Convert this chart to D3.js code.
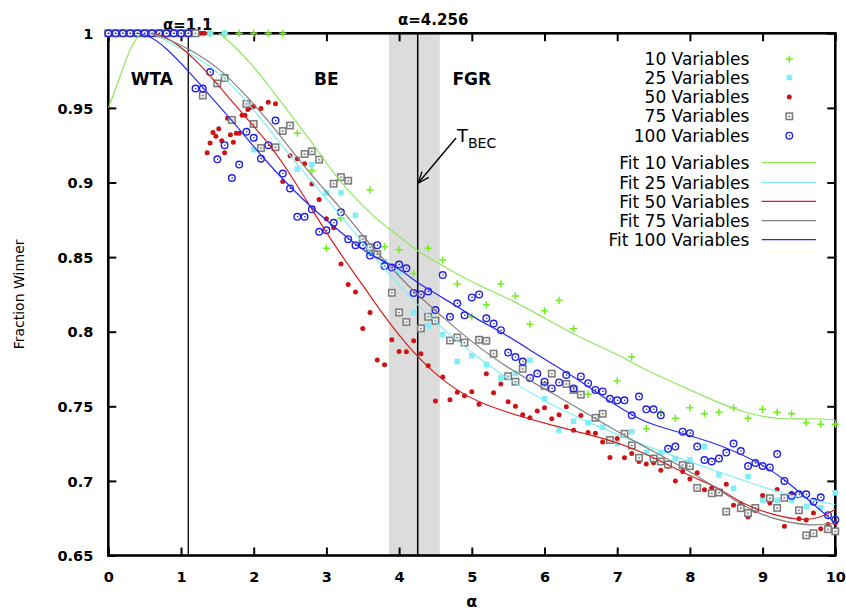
<!DOCTYPE html>
<html>
<head>
<meta charset="utf-8">
<script src="https://cdn.jsdelivr.net/npm/d3@7"></script>
<style>
  html, body { margin: 0; padding: 0; background: #fff; }
  svg { display: block; }
  text { font-family: "DejaVu Sans", sans-serif; }
</style>
</head>
<body>
<svg id="chart" width="846" height="612"></svg>
<script>
// ---------------- DATA ----------------
const xTicks = [0, 1, 2, 3, 4, 5, 6, 7, 8, 9, 10];
const xTickLabels = ["0", "1", "2", "3", "4", "5", "6", "7", "8", "9", "10"];
const yTicks = [0.65, 0.7, 0.75, 0.8, 0.85, 0.9, 0.95, 1];
const yTickLabels = ["0.65", "0.7", "0.75", "0.8", "0.85", "0.9", "0.95", "1"];

const seriesNames = ["10 Variables", "25 Variables", "50 Variables", "75 Variables", "100 Variables"];
const fitNames = ["Fit 10 Variables", "Fit 25 Variables", "Fit 50 Variables", "Fit 75 Variables", "Fit 100 Variables"];

const vars10 = [[0,1],[0.2,1],[0.4,1],[0.6,1],[0.8,1],[1,1],[1.2,1],[1.4,1],[1.6,1],[1.8,1],[2,1],[2.2,1],[2.4,1],
  [2.6,0.933],[2.8,0.908],[3.0,0.856],[3.2,0.876],[3.6,0.895],[3.8,0.857],[4.0,0.855],[4.2,0.839],[4.4,0.856],
  [4.6,0.848],[4.8,0.832],[5.0,0.810],[5.2,0.818],[5.4,0.832],[5.6,0.824],[5.8,0.805],[6.0,0.814],[6.2,0.821],
  [6.4,0.802],[6.6,0.758],[6.8,0.745],[7.0,0.767],[7.2,0.783],[7.4,0.735],[7.6,0.746],[7.8,0.742],[8.0,0.749],
  [8.2,0.745],[8.4,0.746],[8.6,0.749],[8.8,0.742],[9.0,0.748],[9.2,0.746],[9.4,0.745],[9.6,0.739],[9.8,0.738],[10,0.738]];

const vars25 = [[0,1],[0.2,1],[0.4,1],[0.6,1],[0.8,1],[1,1],[1.2,1],[1.4,1],[1.6,1],
  [2.0,0.922],[2.6,0.909],[2.8,0.912],[3.0,0.893],[3.2,0.893],[3.4,0.878],[3.6,0.853],[3.8,0.847],[4.0,0.840],
  [4.2,0.813],[4.4,0.804],[4.6,0.798],[4.8,0.780],[5.0,0.784],[5.2,0.778],[5.4,0.769],[5.6,0.772],[5.8,0.781],
  [6.0,0.755],[6.2,0.734],[6.4,0.740],[6.6,0.739],[6.8,0.736],[7.0,0.725],[7.2,0.733],[7.4,0.719],[7.6,0.719],
  [7.8,0.715],[8.0,0.714],[8.2,0.723],[8.4,0.704],[8.6,0.695],[8.8,0.703],[9.0,0.687],[9.2,0.687],[9.4,0.687],
  [9.6,0.683],[9.8,0.682],[10,0.692]];

const vars50 = [[0,1],[0.04,1],[0.08,1],[0.12,1],[0.16,1],[0.2,1],[0.24,1],[0.28,1],[0.32,1],[0.36,1],[0.4,1],
  [0.44,1],[0.48,1],[0.52,1],[0.56,1],[0.6,1],[0.64,1],[0.68,1],[0.72,1],[0.76,1],[0.8,1],[0.84,1],[0.88,1],
  [0.92,1],[0.96,1],[1.0,1],[1.04,1],[1.08,1],[1.12,1],[1.16,1],[1.2,1],[1.24,1],[1.28,1],[1.32,1],
  [1.36,0.920],[1.40,0.9265],[1.44,0.9335],[1.48,0.931],[1.52,0.936],[1.56,0.928],[1.60,0.920],[1.64,0.943],
  [1.68,0.932],[1.72,0.927],[1.76,0.933],[1.80,0.933],[1.84,0.945],[1.88,0.945],[1.92,0.949],[1.96,0.9505],
  [2.0,0.951],[2.1,0.9496],[2.2,0.9538],[2.3,0.9527],[2.4,0.9007],[2.5,0.918],[2.6,0.916],[2.7,0.9126],
  [2.8,0.899],[2.9,0.8886],[3.0,0.8757],[3.1,0.8696],[3.2,0.8454],[3.3,0.8317],[3.4,0.8266],[3.5,0.8022],
  [3.6,0.8129],[3.7,0.7811],[3.8,0.7778],[3.9,0.7946],[4.0,0.7867],[4.1,0.7865],[4.2,0.7939],[4.3,0.7853],
  [4.4,0.7771],[4.5,0.7536],[4.6,0.7697],[4.7,0.7544],[4.8,0.7594],[4.9,0.7571],[5.0,0.7598],[5.1,0.7513],
  [5.2,0.7719],[5.3,0.7591],[5.4,0.765],[5.5,0.7531],[5.6,0.750],[5.7,0.7444],[5.8,0.7423],[5.9,0.7468],
  [6.0,0.749],[6.1,0.7417],[6.2,0.7444],[6.3,0.7497],[6.4,0.7339],[6.5,0.7439],[6.6,0.7325],[6.7,0.732],
  [6.8,0.726],[6.9,0.7157],[7.0,0.7285],[7.1,0.7155],[7.2,0.7184],[7.3,0.713],[7.4,0.7114],[7.5,0.7121],
  [7.6,0.7072],[7.7,0.7099],[7.8,0.700],[7.9,0.7063],[8.0,0.7013],[8.1,0.7054],[8.2,0.694],[8.3,0.6953],
  [8.4,0.6917],[8.5,0.6978],[8.6,0.6837],[8.7,0.6845],[8.8,0.6758],[8.9,0.6801],[9.0,0.6902],[9.1,0.6852],
  [9.2,0.6942],[9.3,0.6696],[9.4,0.6917],[9.5,0.6747],[9.6,0.6738],[9.7,0.6785],[9.8,0.668],[9.9,0.6707],[10,0.6718]];

const vars75 = [[0,1],[0.1,1],[0.2,1],[0.3,1],[0.4,1],[0.5,1],[0.6,1],[0.7,1],[0.8,1],[0.9,1],[1.0,1],[1.1,1],[1.2,1],
  [1.3,0.9583],[1.5,0.9664],[1.6,0.970],[1.7,0.9419],[1.9,0.9527],[2.0,0.9392],[2.1,0.9231],[2.3,0.9236],
  [2.4,0.9345],[2.5,0.9382],[2.7,0.9191],[2.8,0.9209],[2.9,0.9153],[3.1,0.8992],[3.2,0.9036],[3.3,0.9012],
  [3.5,0.862],[3.6,0.8566],[3.7,0.8519],[3.9,0.8261],[4.0,0.8129],[4.1,0.8065],[4.3,0.8022],[4.4,0.810],
  [4.5,0.8073],[4.7,0.7941],[4.8,0.7961],[4.9,0.7927],[5.1,0.7946],[5.2,0.7939],[5.3,0.7853],[5.5,0.7702],
  [5.6,0.7665],[5.7,0.7751],[6.0,0.7637],[6.1,0.7719],[6.3,0.765],[6.4,0.761],[6.5,0.7578],[6.7,0.7423],
  [6.8,0.745],[6.9,0.7274],[7.1,0.7316],[7.2,0.7238],[7.3,0.7155],[7.5,0.715],[7.6,0.713],[7.7,0.711],
  [7.9,0.7106],[8.0,0.7099],[8.1,0.6953],[8.3,0.6917],[8.4,0.6922],[8.5,0.6794],[8.7,0.6817],[8.8,0.6785],
  [8.9,0.6819],[9.1,0.6884],[9.2,0.6819],[9.3,0.6886],[9.5,0.6803],[9.6,0.6635],[9.7,0.6649],[9.9,0.6676],[10,0.6662]];

const vars100 = [[0,1],[0.1,1],[0.2,1],[0.3,1],[0.4,1],[0.5,1],[0.6,1],[0.7,1],[0.8,1],[0.9,1],[1.0,1],[1.1,1],
  [1.2,0.963],[1.3,0.963],[1.4,0.974],[1.5,0.9155],[1.6,0.925],[1.7,0.903],[1.8,0.912],[1.9,0.934],[2.0,0.930],
  [2.1,0.916],[2.2,0.925],[2.3,0.9415],[2.4,0.906],[2.5,0.896],[2.6,0.877],[2.7,0.877],[2.8,0.882],[2.9,0.867],
  [3.0,0.868],[3.1,0.873],[3.2,0.880],[3.3,0.862],[3.4,0.858],[3.5,0.858],[3.6,0.851],[3.7,0.858],[3.8,0.844],
  [3.9,0.843],[4.0,0.845],[4.1,0.8425],[4.2,0.826],[4.3,0.825],[4.4,0.827],[4.5,0.8145],[4.6,0.838],[4.7,0.810],
  [4.8,0.819],[4.9,0.811],[5.0,0.823],[5.1,0.825],[5.2,0.809],[5.3,0.8055],[5.4,0.801],[5.5,0.786],[5.6,0.783],
  [5.7,0.780],[5.8,0.769],[5.9,0.772],[6.0,0.7665],[6.1,0.762],[6.2,0.766],[6.3,0.771],[6.4,0.762],[6.5,0.770],
  [6.6,0.7655],[6.7,0.761],[6.8,0.760],[6.9,0.755],[7.0,0.754],[7.1,0.754],[7.2,0.744],[7.3,0.7565],[7.4,0.748],
  [7.5,0.748],[7.6,0.744],[7.7,0.7215],[7.8,0.723],[7.9,0.733],[8.0,0.732],[8.1,0.723],[8.2,0.714],[8.3,0.713],
  [8.4,0.715],[8.5,0.719],[8.6,0.725],[8.7,0.720],[8.8,0.710],[8.9,0.712],[9.0,0.710],[9.1,0.709],[9.2,0.718],
  [9.3,0.700],[9.4,0.690],[9.5,0.691],[9.6,0.691],[9.7,0.686],[9.8,0.689],[9.9,0.677],[10,0.674]];

// fitted curves
const fit10 = [[0,0.950],[0.12,0.965],[0.25,0.984],[0.4,1.0],[0.7,1.009],[1.0,1.012],[1.3,1.008],[1.6,0.998],
  [2.0,0.978],[2.22,0.964],[2.5,0.946],[2.8,0.927],[3.1,0.906],[3.4,0.889],[3.74,0.873],[4.01,0.864],[4.24,0.854],
  [4.65,0.843],[5.0,0.833],[5.57,0.821],[6.0,0.809],[6.49,0.796],[7.0,0.785],[7.4,0.774],[8.0,0.761],[8.32,0.754],
  [8.78,0.745],[9.24,0.741],[9.7,0.742],[10,0.741]];
const fit25 = [[0,1.003],[0.6,1.002],[0.85,0.993],[1.2,0.985],[1.54,0.973],[1.9,0.955],[2.22,0.935],[2.7,0.906],
  [3.2,0.878],[3.6,0.853],[4.0,0.831],[4.24,0.8185],[4.8,0.793],[5.39,0.7715],[5.98,0.7536],[6.76,0.7356],
  [7.45,0.7222],[8.37,0.7065],[9.28,0.6909],[10,0.6841]];
const fit50 = [[0,1.003],[0.6,1.002],[0.9,0.995],[1.26,0.980],[1.72,0.953],[2.22,0.926],[2.54,0.903],[3.1,0.858],
  [3.55,0.828],[3.74,0.814],[4.2,0.785],[4.65,0.765],[5.11,0.7513],[6.03,0.738],[6.95,0.727],[7.3,0.720],
  [7.7,0.711],[8.05,0.702],[8.37,0.6964],[8.73,0.684],[9.19,0.6765],[9.56,0.6734],[9.79,0.6751],[10,0.681]];
const fit75 = [[0,1.003],[0.5,1.002],[0.85,0.9955],[1.1,0.990],[1.54,0.9765],[1.9,0.958],[2.22,0.9406],[2.7,0.910],
  [3.19,0.8835],[3.55,0.861],[4.01,0.8364],[4.24,0.8253],[4.8,0.801],[5.39,0.7782],[6.3,0.7536],[6.76,0.740],
  [7.31,0.7245],[7.8,0.712],[8.37,0.6953],[8.69,0.6845],[9.0,0.677],[9.28,0.6729],[9.7,0.6696],[10,0.6718]];
const fit100 = [[0,1.003],[0.55,1.0],[0.8,0.99],[1.1,0.975],[1.4,0.958],[1.72,0.9406],[2.1,0.918],[2.5,0.897],
  [2.82,0.882],[3.28,0.8633],[3.6,0.851],[4.01,0.8427],[4.2,0.834],[4.6,0.823],[5.11,0.807],[5.39,0.8006],
  [6.0,0.7815],[6.5,0.767],[6.88,0.7535],[7.31,0.7413],[7.45,0.738],[8.37,0.7256],[8.96,0.7121],[9.28,0.702],
  [9.65,0.6864],[10,0.6718]];

// annotations
const wtaLine = 1.1;
const becLine = 4.256;
const becBand = [3.86, 4.56];
const regionLabels = [["WTA", 0.6], ["BE", 3.0], ["FGR", 5.0]];

// ---------------- DRAW ----------------
const svg = d3.select("#chart");
const L = 108.3, R = 835.3, T = 33.3, B = 555.5;
const x = d3.scaleLinear().domain([0, 10]).range([L, R]);
const y = d3.scaleLinear().domain([0.65, 1]).range([B, T]);

const colors = {
  p10: "#70ee20", p25: "#80eef6", p50: "#cc1414", p75: "#7a7a7a", p100: "#2020e6",
  l10: "#8ee85a", l25: "#80eef6", l50: "#d02020", l75: "#808080", l100: "#2a2aee"
};

svg.append("defs").append("clipPath").attr("id", "plotclip")
  .append("rect").attr("x", L).attr("y", T).attr("width", R - L).attr("height", B - T);

// band + vertical lines
svg.append("rect").attr("x", x(becBand[0])).attr("y", T).attr("width", x(becBand[1]) - x(becBand[0]))
  .attr("height", B - T).attr("fill", "#dcdcdc");
svg.append("line").attr("x1", x(wtaLine)).attr("x2", x(wtaLine)).attr("y1", T).attr("y2", B)
  .attr("stroke", "#000").attr("stroke-width", 1.3);
svg.append("line").attr("x1", x(becLine)).attr("x2", x(becLine)).attr("y1", T).attr("y2", B)
  .attr("stroke", "#000").attr("stroke-width", 1.5);

// axes
const fmtX = (d) => xTickLabels[xTicks.indexOf(d)];
const fmtY = (d) => yTickLabels[yTicks.indexOf(d)];
const gx = svg.append("g").attr("transform", `translate(0,${B})`)
  .call(d3.axisBottom(x).tickValues(xTicks).tickFormat(fmtX).tickSize(-8).tickPadding(16));
const gxt = svg.append("g").attr("transform", `translate(0,${T})`)
  .call(d3.axisTop(x).tickValues(xTicks).tickFormat("").tickSize(-8));
const gy = svg.append("g").attr("transform", `translate(${L},0)`)
  .call(d3.axisLeft(y).tickValues(yTicks).tickFormat(fmtY).tickSize(-8).tickPadding(15));
const gyr = svg.append("g").attr("transform", `translate(${R},0)`)
  .call(d3.axisRight(y).tickValues(yTicks).tickFormat("").tickSize(-8));
[gx, gxt, gy, gyr].forEach(g => {
  g.select(".domain").remove();
  g.selectAll(".tick line").attr("stroke", "#000").attr("stroke-width", 2);
  g.selectAll("text").attr("font-family", "DejaVu Sans").attr("font-weight", "bold")
    .attr("font-size", 14.5).attr("fill", "#000");
});
gy.selectAll("text").attr("dy", "0.36em");

// border
svg.append("rect").attr("x", L).attr("y", T).attr("width", R - L).attr("height", B - T)
  .attr("fill", "none").attr("stroke", "#000").attr("stroke-width", 2.6);

// axis titles
svg.append("text").attr("x", (L + R) / 2).attr("y", 607).attr("text-anchor", "middle")
  .attr("font-size", 16).attr("font-weight", "bold").text("α");
svg.append("text").attr("transform", `translate(24,${(T + B) / 2}) rotate(-90)`)
  .attr("text-anchor", "middle").attr("font-size", 14).text("Fraction Winner");

// region labels & line labels
regionLabels.forEach(([t, v]) => {
  svg.append("text").attr("x", x(v)).attr("y", 85).attr("text-anchor", "middle")
    .attr("font-size", 17).attr("font-weight", "bold").text(t);
});
svg.append("text").attr("x", 163).attr("y", 30).attr("font-size", 15).attr("font-weight", "bold").text("α=1.1");
svg.append("text").attr("x", 398).attr("y", 25).attr("font-size", 15).attr("font-weight", "bold").text("α=4.256");

// T_BEC annotation with arrow
const tb = svg.append("text").attr("x", 457).attr("y", 142).attr("font-size", 18);
tb.append("tspan").text("T");
tb.append("tspan").attr("font-size", 14).attr("dy", 6).text("BEC");
const ax1 = 456, ay1 = 138, ax2 = x(becLine) + 0.5, ay2 = 183;
svg.append("line").attr("x1", ax1).attr("y1", ay1).attr("x2", ax2).attr("y2", ay2)
  .attr("stroke", "#000").attr("stroke-width", 1.4);
{
  const ang = Math.atan2(ay2 - ay1, ax2 - ax1);
  const hl = 12, ha = 0.38;
  const p = d3.path();
  p.moveTo(ax2 - hl * Math.cos(ang - ha), ay2 - hl * Math.sin(ang - ha));
  p.lineTo(ax2, ay2);
  p.lineTo(ax2 - hl * Math.cos(ang + ha), ay2 - hl * Math.sin(ang + ha));
  svg.append("path").attr("d", p.toString()).attr("fill", "none").attr("stroke", "#000").attr("stroke-width", 1.4);
}

// marker painters
function plus(g, cx, cy) {
  g.append("path").attr("d", `M${cx - 3.6},${cy}H${cx + 3.6}M${cx},${cy - 3.6}V${cy + 3.6}`)
    .attr("stroke", colors.p10).attr("stroke-width", 1.5).attr("fill", "none");
}
function fsquare(g, cx, cy) {
  g.append("rect").attr("x", cx - 2.8).attr("y", cy - 2.8).attr("width", 5.6).attr("height", 5.6)
    .attr("fill", colors.p25);
}
function dot(g, cx, cy) {
  g.append("circle").attr("cx", cx).attr("cy", cy).attr("r", 2.5).attr("fill", colors.p50);
}
function osquare(g, cx, cy) {
  g.append("rect").attr("x", cx - 3.2).attr("y", cy - 3.2).attr("width", 6.4).attr("height", 6.4)
    .attr("fill", "#f4f4f4").attr("stroke", colors.p75).attr("stroke-width", 1.5);
  g.append("rect").attr("x", cx - 0.9).attr("y", cy - 0.6).attr("width", 1.8).attr("height", 1.4).attr("fill", colors.p75);
}
function ocircle(g, cx, cy) {
  g.append("circle").attr("cx", cx).attr("cy", cy).attr("r", 3.3)
    .attr("fill", "none").attr("stroke", colors.p100).attr("stroke-width", 1.4);
  g.append("circle").attr("cx", cx + 0.3).attr("cy", cy).attr("r", 0.8).attr("fill", colors.p100);
}

const pointSets = [[vars10, plus], [vars25, fsquare], [vars50, dot], [vars75, osquare], [vars100, ocircle]];
pointSets.forEach(([data, painter]) => {
  const g = svg.append("g");
  data.forEach(d => painter(g, x(d[0]), y(d[1])));
});

// fits
const line = d3.line().x(d => x(d[0])).y(d => y(d[1])).curve(d3.curveBasis);
const fitSets = [[fit10, colors.l10], [fit25, colors.l25], [fit50, colors.l50], [fit75, colors.l75], [fit100, colors.l100]];
const gf = svg.append("g").attr("clip-path", "url(#plotclip)");
fitSets.forEach(([data, c]) => {
  gf.append("path").attr("d", line(data)).attr("fill", "none").attr("stroke", c).attr("stroke-width", 1.2);
});

// legend
const legTextX = 749.3, legKeyX = 789.3;
const ptYs = [59, 77.5, 97, 116.3, 135.7];
const lnYs = [162.7, 182.3, 201.3, 220.7, 239.7];
const painters = [plus, fsquare, dot, osquare, ocircle];
const lg = svg.append("g");
seriesNames.forEach((n, i) => {
  lg.append("text").attr("x", legTextX).attr("y", ptYs[i] + 6).attr("text-anchor", "end")
    .attr("font-size", 17).text(n);
  painters[i](lg, legKeyX, ptYs[i]);
});
fitNames.forEach((n, i) => {
  lg.append("text").attr("x", legTextX).attr("y", lnYs[i] + 6.5).attr("text-anchor", "end")
    .attr("font-size", 17).text(n);
  lg.append("line").attr("x1", 761.7).attr("x2", 816).attr("y1", lnYs[i]).attr("y2", lnYs[i])
    .attr("stroke", fitSets[i][1]).attr("stroke-width", 1.3);
});
</script>
</body>
</html>
